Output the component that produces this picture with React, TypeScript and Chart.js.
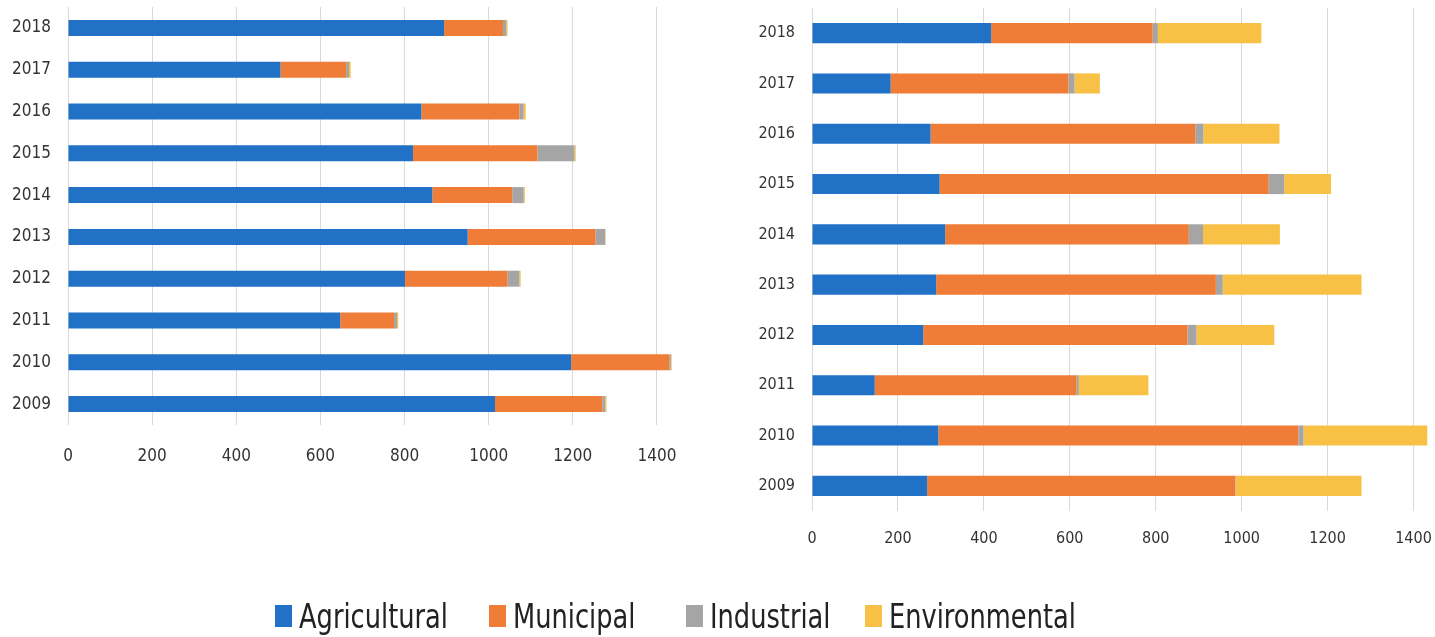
import React, { useEffect, useRef } from "react";
import { Chart, registerables } from "chart.js";

Chart.register(...registerables);

// Categories (bottom to top) and shared series definitions
const years = ["2009", "2010", "2011", "2012", "2013", "2014", "2015", "2016", "2017", "2018"];
const seriesNames = ["Agricultural", "Municipal", "Industrial", "Environmental"];
const seriesColors = ["#2171C7", "#EF7D37", "#A5A5A5", "#F8C146"];
const xTickValues = [0, 200, 400, 600, 800, 1000, 1200, 1400];

// Left panel
const agriculturalLeft = [1015, 1196, 647, 801, 950, 866, 820, 840, 505, 894];
const municipalLeft = [255, 233, 128, 244, 304, 190, 296, 233, 156, 140];
const industrialLeft = [7, 4, 7, 28, 23, 27, 88, 10, 7, 8];
const environmentalLeft = [3, 2, 3, 3, 1, 3, 3, 5, 4, 3];

// Right panel
const agriculturalRight = [268, 294, 146, 259, 289, 310, 297, 276, 183, 417];
const municipalRight = [717, 838, 470, 615, 651, 567, 766, 616, 414, 376];
const industrialRight = [1, 12, 5, 21, 16, 33, 36, 19, 14, 12];
const environmentalRight = [293, 288, 162, 181, 323, 179, 109, 177, 59, 241];

const FONT = '"DejaVu Sans Condensed", "Liberation Sans", sans-serif';
const TEXT_COLOR = "#333333";
const GRID_COLOR = "#d9d9d9";

type PanelProps = {
  series: number[][];
  left: number;
  width: number;
  height: number;
  axisWidth: number;
  xAxisHeight: number;
  padTop: number;
  padRight: number;
  barPct: number;
  xPad: number;
  yPad: number;
  fontSize: number;
};

function StackedPanel(p: PanelProps) {
  const ref = useRef<HTMLCanvasElement | null>(null);

  useEffect(() => {
    if (!ref.current) return;
    const chart = new Chart(ref.current, {
      type: "bar",
      data: {
        labels: years,
        datasets: p.series.map((values, i) => ({
          label: seriesNames[i],
          data: values,
          backgroundColor: seriesColors[i],
          borderWidth: 0,
          barPercentage: p.barPct,
          categoryPercentage: 1,
        })),
      },
      options: {
        indexAxis: "y",
        responsive: false,
        maintainAspectRatio: false,
        animation: false,
        layout: { padding: { top: p.padTop, right: p.padRight, left: 0, bottom: 0 } },
        plugins: { legend: { display: false }, tooltip: { enabled: false } },
        scales: {
          x: {
            stacked: true,
            min: 0,
            max: 1450,
            grid: { color: GRID_COLOR, drawTicks: false, lineWidth: 1 },
            border: { display: false },
            ticks: {
              padding: p.xPad,
              color: TEXT_COLOR,
              font: { family: FONT, size: p.fontSize },
              maxRotation: 0,
              autoSkip: false,
              callback: (v: any) => String(v),
            },
            afterBuildTicks: (axis: any) => {
              axis.ticks = xTickValues.map((v) => ({ value: v }));
            },
            afterFit: (scale: any) => {
              scale.height = p.xAxisHeight;
              scale.paddingLeft = 0;
              scale.paddingRight = 0;
            },
          },
          y: {
            stacked: true,
            reverse: true,
            grid: { display: false, drawTicks: false },
            border: { display: false },
            ticks: {
              padding: p.yPad,
              color: TEXT_COLOR,
              font: { family: FONT, size: p.fontSize },
            },
            afterFit: (scale: any) => {
              scale.width = p.axisWidth;
              scale.paddingTop = 0;
              scale.paddingBottom = 0;
            },
          },
        },
      },
    } as any);
    return () => chart.destroy();
  }, []);

  return (
    <div style={{ position: "absolute", left: p.left, top: 0, width: p.width, height: p.height }}>
      <canvas ref={ref} width={p.width} height={p.height} style={{ width: p.width, height: p.height, display: "block" }} />
    </div>
  );
}

// Horizontal placement of each legend entry (swatch left edge)
const legendSlots = [275, 489, 686, 865];

function Legend() {
  return (
    <div style={{ position: "absolute", left: 0, top: 0, width: 1435, height: 637, pointerEvents: "none" }}>
      {seriesNames.map((name, i) => (
        <div key={name} style={{ position: "absolute", left: legendSlots[i], top: 598, height: 36, display: "flex", alignItems: "center" }}>
          <span style={{ display: "inline-block", width: 17, height: 22, background: seriesColors[i] }} />
          <span
            style={{
              display: "inline-block",
              marginLeft: 7,
              fontFamily: FONT,
              fontSize: 34,
              lineHeight: "36px",
              color: "#222222",
              whiteSpace: "nowrap",
              transform: "scaleX(0.84)",
              transformOrigin: "left center",
            }}
          >
            {name}
          </span>
        </div>
      ))}
    </div>
  );
}

export default function App() {
  return (
    <div style={{ position: "absolute", left: 0, top: 0, width: 1435, height: 637, background: "#ffffff", overflow: "hidden" }}>
      <StackedPanel
        series={[agriculturalLeft, municipalLeft, industrialLeft, environmentalLeft]}
        left={0}
        width={690}
        height={480}
        axisWidth={68}
        xAxisHeight={55}
        padTop={7}
        padRight={12}
        barPct={0.383}
        xPad={21}
        yPad={17}
        fontSize={17}
      />
      <StackedPanel
        series={[agriculturalRight, municipalRight, industrialRight, environmentalRight]}
        left={740}
        width={695}
        height={560}
        axisWidth={72}
        xAxisHeight={49}
        padTop={8}
        padRight={0}
        barPct={0.4}
        xPad={18}
        yPad={17}
        fontSize={16}
      />
      <Legend />
    </div>
  );
}
